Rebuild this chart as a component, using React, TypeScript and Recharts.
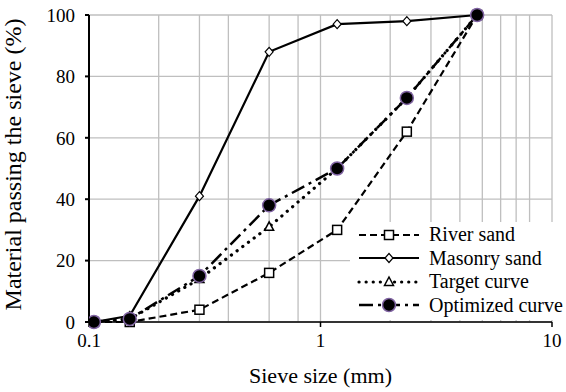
import { LineChart, Line, XAxis, YAxis, CartesianGrid } from "recharts";

// sieve openings (mm) and cumulative % passing for each sand
const sieveSizes = [0.105, 0.15, 0.3, 0.6, 1.18, 2.36, 4.75];
const riverSand = [0, 0, 4, 16, 30, 62, 100];
const masonrySand = [0, 2, 41, 88, 97, 98, 100];
const targetCurve = [0, 1, 14, 31, 50, 73, 100];
const optimizedCurve = [0, 1, 15, 38, 50, 73, 100];

const xTicks = [0.1, 1, 10];
const yTicks = [0, 20, 40, 60, 80, 100];
const minorX = [0.2, 0.3, 0.4, 0.5, 0.6, 0.7, 0.8, 0.9, 1, 2, 3, 4, 5, 6, 7, 8, 9, 10];

const FONT = "'Liberation Serif', 'DejaVu Serif', serif";
const GRID = "#bfbfbf";

const data = sieveSizes.map((size, i) => ({
  size,
  river: riverSand[i],
  masonry: masonrySand[i],
  target: targetCurve[i],
  optimized: optimizedCurve[i],
}));

type Shape = "square" | "diamond" | "triangle" | "circle";

function Marker({ shape, cx, cy }: { shape: Shape; cx: number; cy: number }) {
  if (shape === "square")
    return <rect x={cx - 4.5} y={cy - 4.5} width={9} height={9} fill="#fff" stroke="#000" strokeWidth={1.5} />;
  if (shape === "diamond")
    return (
      <polygon
        points={`${cx},${cy - 4.5} ${cx + 4},${cy} ${cx},${cy + 4.5} ${cx - 4},${cy}`}
        fill="#fff"
        stroke="#000"
        strokeWidth={1.2}
      />
    );
  if (shape === "triangle")
    return (
      <polygon
        points={`${cx},${cy - 5} ${cx + 4.5},${cy + 3.5} ${cx - 4.5},${cy + 3.5}`}
        fill="#fff"
        stroke="#000"
        strokeWidth={1.5}
      />
    );
  return <circle cx={cx} cy={cy} r={6.5} fill="#000" stroke="#8064a2" strokeWidth={1.5} />;
}

const series = [
  { key: "river", name: "River sand", dash: "7 4", width: 2.2, cap: "butt", shape: "square" as Shape },
  { key: "masonry", name: "Masonry sand", dash: undefined, width: 2.2, cap: "butt", shape: "diamond" as Shape },
  { key: "target", name: "Target curve", dash: "0.1 7", width: 3.2, cap: "round", shape: "triangle" as Shape },
  { key: "optimized", name: "Optimized curve", dash: "14 5 3 5", width: 2.5, cap: "butt", shape: "circle" as Shape },
];

// legend sits over the lower-right of the plot on a white box
function LegendBox() {
  return (
    <div
      style={{
        position: "absolute",
        left: 350,
        top: 222,
        width: 216,
        boxSizing: "border-box",
        background: "#fff",
        padding: "1px 0 3px 6px",
        fontFamily: FONT,
        fontSize: 20,
        lineHeight: "23.5px",
      }}
    >
      {series.map((s) => (
        <div key={s.key} style={{ display: "flex", alignItems: "center", whiteSpace: "nowrap" }}>
          <svg width={66} height={20} style={{ marginRight: 7 }}>
            <line
              x1={3}
              y1={10}
              x2={63}
              y2={10}
              stroke="#000"
              strokeWidth={s.width}
              strokeDasharray={s.dash}
              strokeLinecap={s.cap as "butt" | "round"}
            />
            <Marker shape={s.shape} cx={33} cy={10} />
          </svg>
          <span>{s.name}</span>
        </div>
      ))}
    </div>
  );
}

export default function App() {
  return (
    <div style={{ position: "absolute", left: 0, top: 0, width: 566, height: 392, background: "#fff", fontFamily: FONT }}>
      <LineChart
        width={566}
        height={392}
        data={data}
        margin={{ top: 15, right: 14, left: 0, bottom: 0 }}
        style={{ fontFamily: FONT }}
      >
        <CartesianGrid stroke={GRID} strokeWidth={1.3} vertical verticalValues={minorX} horizontalValues={yTicks} />
        <XAxis
          dataKey="size"
          type="number"
          scale="log"
          domain={[0.1, 10]}
          ticks={xTicks}
          allowDataOverflow
          height={70}
          stroke="#000"
          strokeWidth={1.5}
          tickSize={5}
          tickMargin={7}
          tick={{ fill: "#000", fontSize: 19, fontFamily: FONT }}
          tickFormatter={(v: number) => String(v)}
          label={{ value: "Sieve size (mm)", position: "insideBottom", offset: 9, fill: "#000", fontSize: 22, fontFamily: FONT }}
        />
        <YAxis
          type="number"
          domain={[0, 100]}
          ticks={yTicks}
          width={89}
          stroke="#000"
          strokeWidth={2}
          tickSize={4}
          tickMargin={10}
          tick={{ fill: "#000", fontSize: 19, fontFamily: FONT }}
          label={{
            value: "Material passing the sieve (%)",
            angle: -90,
            position: "insideLeft",
            offset: 0,
            dx: 12,
            dy: -4,
            fill: "#000",
            fontSize: 24,
            fontFamily: FONT,
            style: { textAnchor: "middle" },
          }}
        />
        {series.map((s) => (
          <Line
            key={s.key}
            dataKey={s.key}
            name={s.name}
            type="linear"
            stroke="#000"
            strokeWidth={s.width}
            strokeDasharray={s.dash}
            strokeLinecap={s.cap as "butt" | "round"}
            dot={(p: any) => <Marker key={`${s.key}-${p.index}`} shape={s.shape} cx={p.cx} cy={p.cy} />}
            activeDot={false}
            isAnimationActive={false}
          />
        ))}
      </LineChart>
      <LegendBox />
    </div>
  );
}
